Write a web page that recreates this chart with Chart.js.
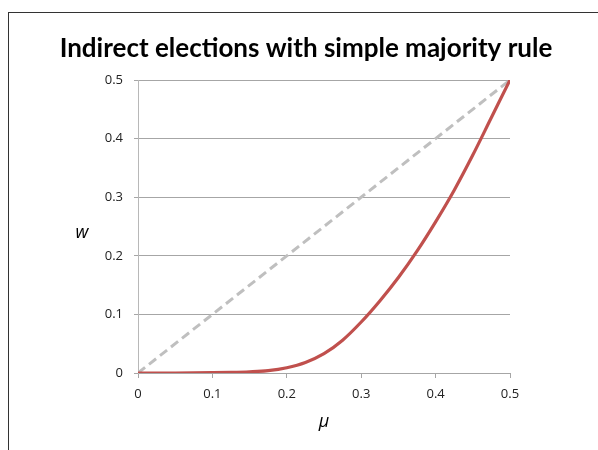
<!DOCTYPE html>
<html>
<head>
<meta charset="utf-8">
<script src="https://cdn.jsdelivr.net/npm/chart.js@4.4.1/dist/chart.umd.min.js"></script>
<style>
    html, body { margin: 0; padding: 0; background: #fff; overflow: hidden; }
    #frame {
        position: absolute; left: 8px; top: 12px;
        width: 700px; height: 600px;
        border: 1px solid #333;
        box-shadow: 1px 1px 1px #bbb;
    }
    #wrap { position: absolute; left: 0; top: 0; width: 598px; height: 450px; }
</style>
</head>
<body>
<div id="frame"></div>
<div id="wrap"><canvas id="lineChart" width="598" height="450"></canvas></div>
<script>
// data
const muValues = [0, 0.05, 0.1, 0.125, 0.15, 0.175, 0.2, 0.225, 0.25, 0.275, 0.3, 0.325, 0.35, 0.375, 0.4, 0.425, 0.45, 0.475, 0.5];
const wValues  = [0, 0, 0.0005, 0.001, 0.002, 0.004, 0.009, 0.018, 0.033, 0.056, 0.087, 0.123, 0.163, 0.208, 0.258, 0.312, 0.372, 0.436, 0.5];
const diagMu = [0, 0.5];
const diagW  = [0, 0.5];
const xTicks = [0, 0.1, 0.2, 0.3, 0.4, 0.5];
const yTicks = [0, 0.1, 0.2, 0.3, 0.4, 0.5];

const chartTitle = 'Indirect elections with simple majority rule';
const xTitle = 'μ';
const yTitle = 'w';

function toPoints(xs, ys) {
    return xs.map((x, i) => ({ x: x, y: ys[i] }));
}

// title and upright y label drawn by hand (Chart.js would rotate the y title)
const textPlugin = {
    id: 'textPlugin',
    afterDraw(chart) {
        const ctx = chart.ctx;
        ctx.save();
        ctx.fillStyle = '#000';
        ctx.textAlign = 'center';
        ctx.textBaseline = 'alphabetic';
        ctx.font = 'bold 26px Lato';
        ctx.fillText(chartTitle, 306, 57);
        ctx.font = 'italic 18px "Open Sans"';
        ctx.textBaseline = 'middle';
        ctx.fillText(yTitle, 82, 233);
        ctx.restore();
    }
};

const ctx = document.getElementById('lineChart').getContext('2d');
new Chart(ctx, {
    type: 'scatter',
    data: {
        datasets: [
            {
                label: 'w',
                data: toPoints(muValues, wValues),
                showLine: true,
                borderColor: '#C0504D',
                borderWidth: 3.2,
                pointRadius: 0,
                cubicInterpolationMode: 'monotone',
                fill: false
            },
            {
                label: 'diagonal',
                data: toPoints(diagMu, diagW),
                showLine: true,
                borderColor: '#BFBFBF',
                borderWidth: 3,
                borderDash: [9, 5],
                pointRadius: 0,
                fill: false
            }
        ]
    },
    plugins: [textPlugin],
    options: {
        responsive: false,
        animation: false,
        layout: { padding: { top: 80, right: 88, left: 0, bottom: 0 } },
        plugins: {
            legend: { display: false },
            tooltip: { enabled: false },
            title: { display: false }
        },
        scales: {
            x: {
                type: 'linear',
                min: 0,
                max: 0.5,
                afterBuildTicks: scale => { scale.ticks = xTicks.map(v => ({ value: v })); },
                afterFit: scale => { scale.height = 77; },
                grid: { drawOnChartArea: false, drawTicks: true, tickLength: 5, color: '#a6a6a6' },
                border: { color: '#a6a6a6', width: 1 },
                ticks: { padding: 8, color: '#222', font: { family: 'Open Sans', size: 13 } },
                title: {
                    display: true,
                    text: xTitle,
                    color: '#000',
                    font: { family: 'Open Sans', size: 18, style: 'italic' },
                    padding: { top: 0, bottom: 17 }
                }
            },
            y: {
                type: 'linear',
                min: 0,
                max: 0.5,
                afterBuildTicks: scale => { scale.ticks = yTicks.map(v => ({ value: v })); },
                afterFit: scale => { scale.width = 138; },
                grid: { drawTicks: true, tickLength: 4, color: '#a6a6a6' },
                border: { color: '#b8b8b8', width: 1 },
                ticks: { padding: 11, color: '#222', font: { family: 'Open Sans', size: 13 } }
            }
        }
    }
});
</script>
</body>
</html>
